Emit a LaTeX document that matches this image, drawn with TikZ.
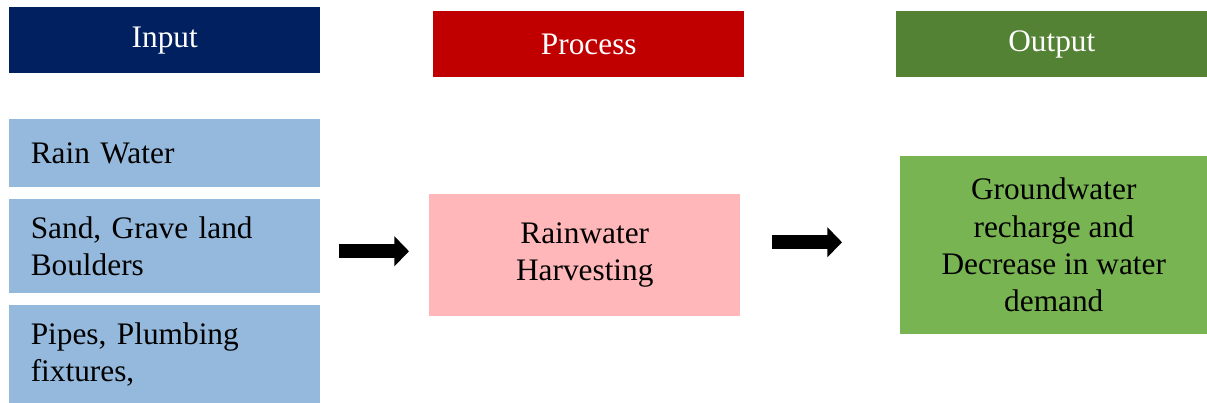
\documentclass[tikz,border=0pt]{standalone}
\usepackage{fontspec}
\setmainfont{Liberation Serif}
\usetikzlibrary{arrows.meta}

\definecolor{inputnavy}{HTML}{002060}
\definecolor{processred}{HTML}{C00000}
\definecolor{outputgreen}{HTML}{548235}
\definecolor{itemblue}{HTML}{95B9DC}
\definecolor{harvpink}{HTML}{FFB7B9}
\definecolor{resultgreen}{HTML}{78B552}

\tikzset{
  hdr/.style={anchor=north west, minimum width=233.25pt, minimum height=49.5pt, inner sep=0pt, text=white},
  item/.style={anchor=north west, fill=itemblue, minimum width=233.25pt, inner xsep=16pt, inner ysep=0pt, text width=201pt, align=left},
  midbox/.style={anchor=north west, inner sep=0pt, align=center},
  fatarrow/.style={line width=10.5pt, -{Triangle[length=11pt,width=22pt]}}
}

\begin{document}
\begin{tikzpicture}[x=0.75pt, y=-0.75pt, font=\fontsize{23.5}{28}\selectfont]
  \useasboundingbox (0,0) rectangle (1207,403);

  \node[hdr, fill=inputnavy] (input) at (9,7) {Input};
  \node[hdr, fill=processred] (process) at (433,11) {Process};
  \node[hdr, fill=outputgreen] (output) at (896,11) {Output};

  \node[item, minimum height=51pt] (rain) at (9,119) {Rain Water};
  \node[item, minimum height=70.5pt] (sand) at (9,199) {Sand, Grave land\\Boulders};
  \node[item, minimum height=73.5pt] (pipes) at (9,305) {Pipes, Plumbing\\fixtures,};

  \node[midbox, fill=harvpink, minimum width=233.25pt, minimum height=91.5pt] (harvest) at (429,194) {Rainwater\\Harvesting};
  \node[midbox, fill=resultgreen, minimum width=230.25pt, minimum height=133.5pt] (result) at (900,156) {Groundwater\\recharge and\\Decrease in water\\demand};

  \draw[fatarrow, shorten <=13.5pt, shorten >=15pt] ([yshift=-3.75pt]sand.east) -- ([yshift=-3.75pt]harvest.west |- sand.east);
  \draw[fatarrow, shorten <=23.25pt, shorten >=43.5pt] ([yshift=2.25pt]harvest.east |- result.west) -- ([yshift=2.25pt]result.west);
\end{tikzpicture}
\end{document}
